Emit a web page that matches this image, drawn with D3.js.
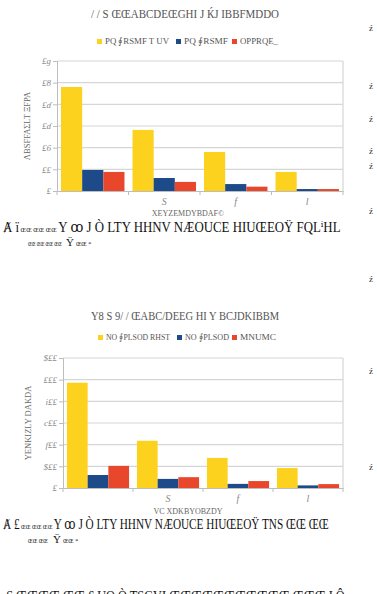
<!DOCTYPE html>
<html><head><meta charset="utf-8">
<script src="https://cdn.jsdelivr.net/npm/d3@7"></script>
<style>
html,body{margin:0;padding:0;background:#fff;}
svg{display:block;}
.t{font-family:"Liberation Serif","DejaVu Serif",serif;}
</style></head><body>
<script>
// ---- data ----
const categories = ["", "S", "f", "l"];
const seriesNames1 = ["PQ \u222eRSMF T UV", "PQ \u222eRSMF", "OPPRQE_"];
const yellow1 = [4.8, 2.82, 1.8, 0.88];
const blue1   = [0.97, 0.6, 0.32, 0.09];
const red1    = [0.88, 0.42, 0.2, 0.09];
const yTicks1 = ["£", "££", "£б", "£ɗ", "£ɗ", "£8", "£ɡ"];

const seriesNames2 = ["NO \u222ePLSOD RHST", "NO \u222ePLSOD", "MNUMC"];
const yellow2 = [4.86, 2.18, 1.39, 0.92];
const blue2   = [0.6, 0.42, 0.19, 0.12];
const red2    = [1.02, 0.5, 0.32, 0.18];
const yTicks2 = ["£", "$££", "f££", "c££", "i££", "£££", "$££"];

const colors = ["#fcd21f", "#1d4a88", "#e9472c"];

const W = 377, H = 594;
const svg = d3.select("body").append("svg").attr("width", W).attr("height", H);

// squeeze a text horizontally to a target width (anchored at its x)
function fit(sel, x, width) {
  const w = sel.node().getComputedTextLength();
  const s = Math.min(1, width / w);
  sel.attr("x", 0).attr("transform", `translate(${x},0) scale(${s},1)`);
}

function chart(cfg) {
  const {x0, x1, y0, y1, series, names, ticks, title, titleY, legendY, legendX, legendW, xTitle, xTitleY, yTitle, yTitleX} = cfg;
  const g = svg.append("g");
  const x = d3.scaleBand().domain(categories).range([x0, x1]).paddingInner(0).paddingOuter(0);
  const y = d3.scaleLinear().domain([0, 6]).range([y1, y0]);
  const xs = d3.scaleBand().domain([0,1,2]).range([0, x.bandwidth()]).paddingOuter(0.19).paddingInner(0);

  g.selectAll("line.grid").data(d3.range(1, 7)).join("line")
    .attr("x1", x0).attr("x2", x1).attr("y1", d => y(d)).attr("y2", d => y(d))
    .attr("stroke", "#d6d6d6").attr("stroke-width", 1.2);
  g.append("line").attr("x1", x1).attr("x2", x1).attr("y1", y0).attr("y2", y1)
    .attr("stroke", "#d6d6d6").attr("stroke-width", 1.2);

  const rows = categories.map((c, i) => ({c, v: series.map(s => s[i])}));
  const grp = g.selectAll("g.cat").data(rows).join("g").attr("transform", d => `translate(${x(d.c)},0)`);
  grp.selectAll("rect").data(d => d.v.map((v, k) => ({v, k}))).join("rect")
    .attr("x", d => xs(d.k)).attr("width", xs.bandwidth())
    .attr("y", d => y(d.v)).attr("height", d => y(0) - y(d.v))
    .attr("fill", d => colors[d.k]);

  const ya = d3.axisLeft(y).tickValues(d3.range(0, 7)).tickSize(4).tickFormat(d => ticks[d]);
  const yg = g.append("g").attr("transform", `translate(${x0},0)`).call(ya);
  yg.select(".domain").attr("stroke", "#bdbdbd");
  yg.selectAll(".tick line").attr("stroke", "#bdbdbd");
  yg.selectAll("text").attr("class", "t").attr("fill", "#8a8a8a").attr("font-size", 9)
    .attr("font-style", "italic").attr("x", -6);

  const xa = d3.axisBottom(x).tickSize(0).tickFormat(d => d);
  const xg = g.append("g").attr("transform", `translate(0,${y1})`).call(xa);
  xg.select(".domain").attr("stroke", "#bdbdbd");
  xg.selectAll("text").attr("class", "t").attr("fill", "#8a8a8a").attr("font-size", 10)
    .attr("font-style", "italic").attr("y", 7).attr("dy", "0.71em");
  g.selectAll("line.xt").data(categories.concat(["__end"])).join("line")
    .attr("x1", (d, i) => i < categories.length ? x(d) : x1)
    .attr("x2", (d, i) => i < categories.length ? x(d) : x1)
    .attr("y1", y1).attr("y2", y1 + 4).attr("stroke", "#bdbdbd");

  svg.append("text").attr("class", "t").attr("x", 185).attr("y", titleY).attr("text-anchor", "middle")
    .attr("font-size", 12).attr("fill", "#555").attr("textLength", 188).attr("lengthAdjust", "spacingAndGlyphs").text(title);

  const lg = svg.append("g");
  names.forEach((n, k) => {
    lg.append("rect").attr("x", legendX[k]).attr("y", legendY - 5).attr("width", 5).attr("height", 5).attr("fill", colors[k]);
    lg.append("text").attr("class", "t").attr("x", legendX[k] + 8).attr("y", legendY).attr("font-size", 9)
      .attr("fill", "#555").attr("textLength", legendW[k]).attr("lengthAdjust", "spacingAndGlyphs").text(n);
  });

  svg.append("text").attr("class", "t").attr("x", 188).attr("y", xTitleY).attr("text-anchor", "middle")
    .attr("font-size", 8).attr("fill", "#666").text(xTitle);
  svg.append("text").attr("class", "t").attr("transform", `translate(${yTitleX},${(y0 + y1) / 2}) rotate(-90)`)
    .attr("text-anchor", "middle").attr("font-size", 8.5).attr("fill", "#666").text(yTitle);
}

chart({x0: 57, x1: 343, y0: 61, y1: 191, series: [yellow1, blue1, red1], names: seriesNames1, ticks: yTicks1,
  title: "/ / S ŒŒABCDEŒGHI J ЌJ    IBBFMDDO", titleY: 18, legendY: 44, legendX: [97, 176, 232], legendW: [64, 44, 38],
  xTitle: "XEYZEMDYBDAF©", xTitleY: 216, yTitle: "ΛBSFFAΣLT ΞFPA", yTitleX: 30});

chart({x0: 63, x1: 343, y0: 358, y1: 488, series: [yellow2, blue2, red2], names: seriesNames2, ticks: yTicks2,
  title: "Y8 S 9/ / ŒABC/DEEG HI Y BCJDKIBBM", titleY: 320, legendY: 340, legendX: [98, 177, 232], legendW: [64, 44, 36],
  xTitle: "VC  XDKBYOBZDY", xTitleY: 514, yTitle: "YENKIZLY DAKDA", yTitleX: 31});

// captions
function caption(y, lead, body, len, y2, smallA, wA, xY, smallB) {
  const t = svg.append("text").attr("class", "t").attr("y", y).attr("font-size", 14.5).attr("fill", "#111");
  t.append("tspan").text(lead);
  t.append("tspan").attr("font-size", 7).text("  ŒŒ ŒŒ ŒŒ ");
  t.append("tspan").text(body);
  fit(t, 3, len);
  const a = svg.append("text").attr("class", "t").attr("y", y2).attr("font-size", 6).attr("fill", "#111").text(smallA);
  fit(a, 28, wA);
  svg.append("text").attr("class", "t").attr("x", xY).attr("y", y2).attr("font-size", 11).attr("fill", "#111").text("Ÿ");
  svg.append("text").attr("class", "t").attr("x", xY + 10).attr("y", y2).attr("font-size", 6).attr("fill", "#111").text(smallB);
}
caption(232, "Ⱥ ï", "Y ꝏ J Ò LTY HHNV NÆOUCE HIUŒEOŸ FQLⁱHL", 338, 246, "ŒŒ ŒŒ ŒŒ ŒŒ", 34, 66, "ŒŒ  *");
caption(529, "Ⱥ £", "Y ꝏ J Ò LTY HHNV NÆOUCE HIUŒEOŸ TNS ŒŒ ŒŒ", 326, 543, "ŒŒ ŒŒ", 20, 53, "ŒŒ  *");
const last = svg.append("text").attr("class", "t").attr("y", 601).attr("font-size", 15).attr("fill", "#111")
  .text("ʌS ŒŒŒŒ  ŒŒ £    UO Ò TSGVI ŒŒŒŒŒŒŒŒŒŒŒ ŒŒŒ I Ô");
fit(last, 0, 345);

// right margin marks
const marks = [27, 85, 118, 150, 165, 210, 278, 370, 466];
svg.selectAll("text.m").data(marks).join("text").attr("class", "t").attr("x", 369).attr("y", d => d + 4)
  .attr("font-size", 9).attr("fill", "#333").text("ź");
</script>
</body></html>
